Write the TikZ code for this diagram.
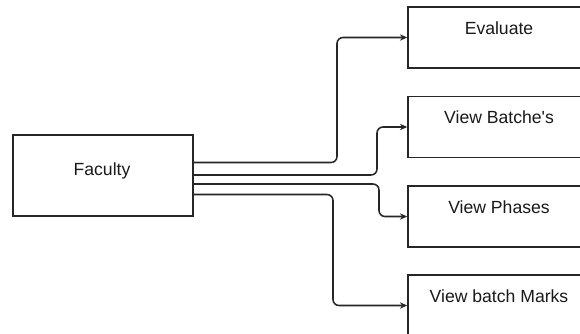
\documentclass[tikz,border=0pt]{standalone}
\usepackage{fontspec}
\newfontfamily\lblfont{Liberation Sans}
\usetikzlibrary{arrows.meta}

\begin{document}
\begin{tikzpicture}[x=0.75pt, y=-0.75pt,
  box/.style={draw=black!85, line width=1.15pt, fill=white, inner sep=0pt},
  leftbox/.style={box, minimum width=180*0.75pt, minimum height=81*0.75pt},
  rightbox/.style={box, minimum width=182*0.75pt, minimum height=61*0.75pt},
  lbl/.style={anchor=base, inner sep=0pt, text=black!90, font=\lblfont\fontsize{13.2pt}{15pt}\selectfont},
  conn/.style={draw=black!85, line width=1.15pt, rounded corners=4.5pt,
    -{Stealth[length=5.5pt, width=4.8pt]}}
]
\useasboundingbox (0,0) rectangle (580,333);
\clip (0,0) rectangle (580,333);

% source box
\node[leftbox] (fac) at (103,175.5) {};
\node[lbl] (factxt) at (102,175) {Faculty};

% target boxes
\node[rightbox] (eval)   at (499,37.5)  {};
\node[rightbox] (batch)  at (499,127)   {};
\node[rightbox] (phase)  at (499,216.5) {};
\node[rightbox] (marks)  at (499,305.5) {};

\node[lbl] (evaltxt)  at (499,34)  {Evaluate};
\node[lbl] (batchtxt) at (499,123) {View Batche's};
\node[lbl] (phasetxt) at (499,213) {View Phases};
\node[lbl] (markstxt) at (499,302) {View batch Marks};

% connectors
\draw[conn] ([shift={(0,-13)}]fac.east)  -| (337,100) |- (eval.west);
\draw[conn] ([shift={(0,-0.5)}]fac.east) -| (377,150) |- (batch.west);
\draw[conn] ([shift={(0,8.5)}]fac.east)  -| (379,200) |- (phase.west);
\draw[conn] ([shift={(0,19)}]fac.east)   -| (333,250) |- (marks.west);
\end{tikzpicture}
\end{document}
